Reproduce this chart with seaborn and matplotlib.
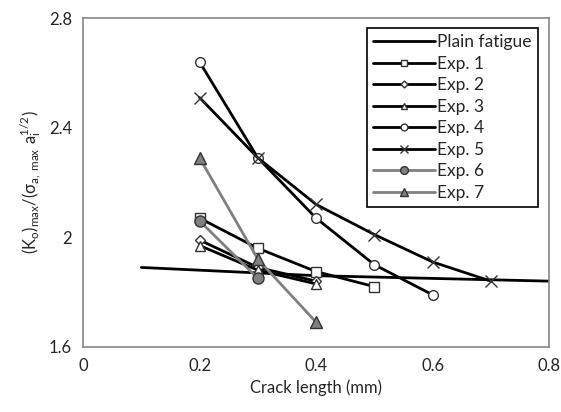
import numpy as np
import pandas as pd
import matplotlib
matplotlib.use("Agg")
import matplotlib.pyplot as plt
import seaborn as sns

# values
plain_x = [0.1, 0.2, 0.3, 0.4, 0.5, 0.6, 0.7, 0.8]
plain_y = [1.89, 1.88, 1.87, 1.86, 1.855, 1.85, 1.845, 1.84]

exp1_x = [0.2, 0.3, 0.4, 0.5]
exp1_y = [2.07, 1.96, 1.875, 1.82]
exp2_x = [0.2, 0.3, 0.4]
exp2_y = [1.99, 1.89, 1.84]
exp3_x = [0.2, 0.3, 0.4]
exp3_y = [1.97, 1.88, 1.83]
exp4_x = [0.2, 0.3, 0.4, 0.5, 0.6]
exp4_y = [2.64, 2.29, 2.07, 1.90, 1.79]
exp5_x = [0.2, 0.3, 0.4, 0.5, 0.6, 0.7]
exp5_y = [2.51, 2.29, 2.12, 2.01, 1.91, 1.84]
exp6_x = [0.2, 0.3]
exp6_y = [2.06, 1.85]
exp7_x = [0.2, 0.3, 0.4]
exp7_y = [2.29, 1.92, 1.69]

sns.set_style("white")
plt.rcParams["font.family"] = ["Lato", "DejaVu Sans"]
plt.rcParams["mathtext.default"] = "regular"

fig = plt.figure(figsize=(5.61, 4.12), dpi=100)
ax = fig.add_axes([0.148, 0.158, 0.831, 0.798])

ax.plot(plain_x, plain_y, color="black", lw=2, label="Plain fatigue")

series = [
    ("Exp. 1", exp1_x, exp1_y, "s", "black", "white", 7),
    ("Exp. 2", exp2_x, exp2_y, "D", "black", "white", 5),
    ("Exp. 3", exp3_x, exp3_y, "^", "black", "white", 7),
    ("Exp. 4", exp4_x, exp4_y, "o", "black", "white", 7),
    ("Exp. 5", exp5_x, exp5_y, "x", "black", "white", 8),
    ("Exp. 6", exp6_x, exp6_y, "o", "#808080", "#808080", 8),
    ("Exp. 7", exp7_x, exp7_y, "^", "#808080", "#808080", 8),
]
for name, xs, ys, mk, col, fc, ms in series:
    df = pd.DataFrame({"x": xs, "y": ys})
    sns.lineplot(data=df, x="x", y="y", ax=ax, color=col, lw=2, marker=mk,
                 markersize=ms, markerfacecolor=fc, markeredgecolor="#333333",
                 markeredgewidth=1, label=name)

ax.set_xlim(0, 0.8)
ax.set_ylim(1.6, 2.8)
ax.set_xticks([0, 0.2, 0.4, 0.6, 0.8])
ax.set_xticklabels(["0", "0.2", "0.4", "0.6", "0.8"])
ax.set_yticks([1.6, 2.0, 2.4, 2.8])
ax.set_yticklabels(["1.6", "2", "2.4", "2.8"])
ax.tick_params(direction="in", length=4, color="#888888", labelsize=12, pad=8)
for s in ax.spines.values():
    s.set_color("#888888")
    s.set_linewidth(1.2)

ax.set_xlabel("Crack length (mm)", fontsize=12)
ax.set_ylabel(r"$(K_{o})_{max}/(\sigma_{a,\,max}\ a_{i}^{1/2})$", fontsize=12)

leg = ax.legend(loc="upper right", bbox_to_anchor=(0.975, 0.97), borderaxespad=0,
                fontsize=12.5, frameon=True, fancybox=False, edgecolor="black",
                framealpha=1, handlelength=3.6, handletextpad=0.1,
                labelspacing=0.32, borderpad=0.35, markerscale=0.7)
leg.get_frame().set_linewidth(1.2)

fig.savefig("out.png", dpi=100)
